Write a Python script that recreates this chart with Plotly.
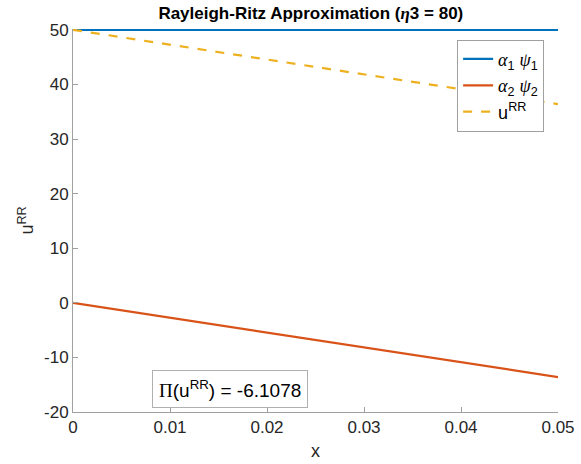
import plotly.graph_objects as go

# Trial-function contributions and the Rayleigh-Ritz solution along x
x = [0.0, 0.05]
alpha1_psi1 = [50.0, 50.0]
alpha2_psi2 = [0.0, -13.6]
u_rr = [50.0, 36.4]

x_ticks = [0, 0.01, 0.02, 0.03, 0.04, 0.05]
x_tick_text = ["0", "0.01", "0.02", "0.03", "0.04", "0.05"]
y_ticks = [-20, -10, 0, 10, 20, 30, 40, 50]
y_tick_text = ["-20", "-10", "0", "10", "20", "30", "40", "50"]

potential_energy = -6.1078

FONT = "Liberation Sans, Arial, Helvetica, sans-serif"
SERIF = "Liberation Serif, Times New Roman, serif"
AXIS_GRAY = "#262626"


def greek(letter):
    return f"<span style='font-family:{SERIF}'><i>{letter}</i></span>"


fig = go.Figure()
fig.add_trace(go.Scatter(
    x=x, y=alpha1_psi1, mode="lines",
    line=dict(color="#0072BD", width=2.2),
    name=f"{greek('α')}<sub>1</sub> {greek('ψ')}<sub>1</sub>",
))
fig.add_trace(go.Scatter(
    x=x, y=alpha2_psi2, mode="lines",
    line=dict(color="#D95319", width=2.2),
    name=f"{greek('α')}<sub>2</sub> {greek('ψ')}<sub>2</sub>",
))
fig.add_trace(go.Scatter(
    x=x, y=u_rr, mode="lines",
    line=dict(color="#EDB120", width=2.2, dash="dash"),
    name="u<sup>RR</sup>",
))

fig.add_annotation(
    x=0.324, y=0.06, xref="paper", yref="paper",
    xanchor="center", yanchor="middle",
    text=f"<span style='font-family:{SERIF}'>Π</span>(u<sup>RR</sup>) = {potential_energy}",
    showarrow=False,
    font=dict(family=FONT, size=19, color="#000000"),
    bordercolor="#b0b0b0", borderwidth=1, borderpad=6,
    bgcolor="white",
)

fig.update_layout(
    width=581, height=464,
    margin=dict(l=73, r=23, t=29, b=52, autoexpand=False),
    paper_bgcolor="white", plot_bgcolor="white",
    font=dict(family=FONT, size=17, color=AXIS_GRAY),
    title=dict(
        text=f"<b>Rayleigh-Ritz Approximation ({greek('η')}3 = 80)</b>",
        x=0.535, xanchor="center", y=0.972, yanchor="middle",
        font=dict(family=FONT, size=17, color="#000000"),
    ),
    showlegend=True,
    legend=dict(
        x=0.792, y=0.972, xanchor="left", yanchor="top",
        bgcolor="white", bordercolor="#a0a0a0", borderwidth=1,
        font=dict(family=FONT, size=18, color="#000000"),
        tracegroupgap=0, itemwidth=30,
    ),
    xaxis=dict(
        range=[0, 0.05], tickvals=x_ticks, ticktext=x_tick_text,
        showgrid=False, zeroline=False,
        showline=True, linecolor="#a0a0a0", linewidth=1,
        ticks="inside", ticklen=5, tickcolor="#a0a0a0",
        title=dict(text="x", font=dict(size=18, color=AXIS_GRAY), standoff=7),
        tickfont=dict(size=17, color=AXIS_GRAY),
    ),
    yaxis=dict(
        range=[-20, 50.15], tickvals=y_ticks, ticktext=y_tick_text,
        showgrid=False, zeroline=False,
        showline=True, linecolor="#a0a0a0", linewidth=1,
        ticks="inside", ticklen=5, tickcolor="#a0a0a0",
        title=dict(text="u<sup>RR</sup>", font=dict(size=18, color=AXIS_GRAY), standoff=5),
        tickfont=dict(size=17, color=AXIS_GRAY),
    ),
)

fig.write_html("out.html")
